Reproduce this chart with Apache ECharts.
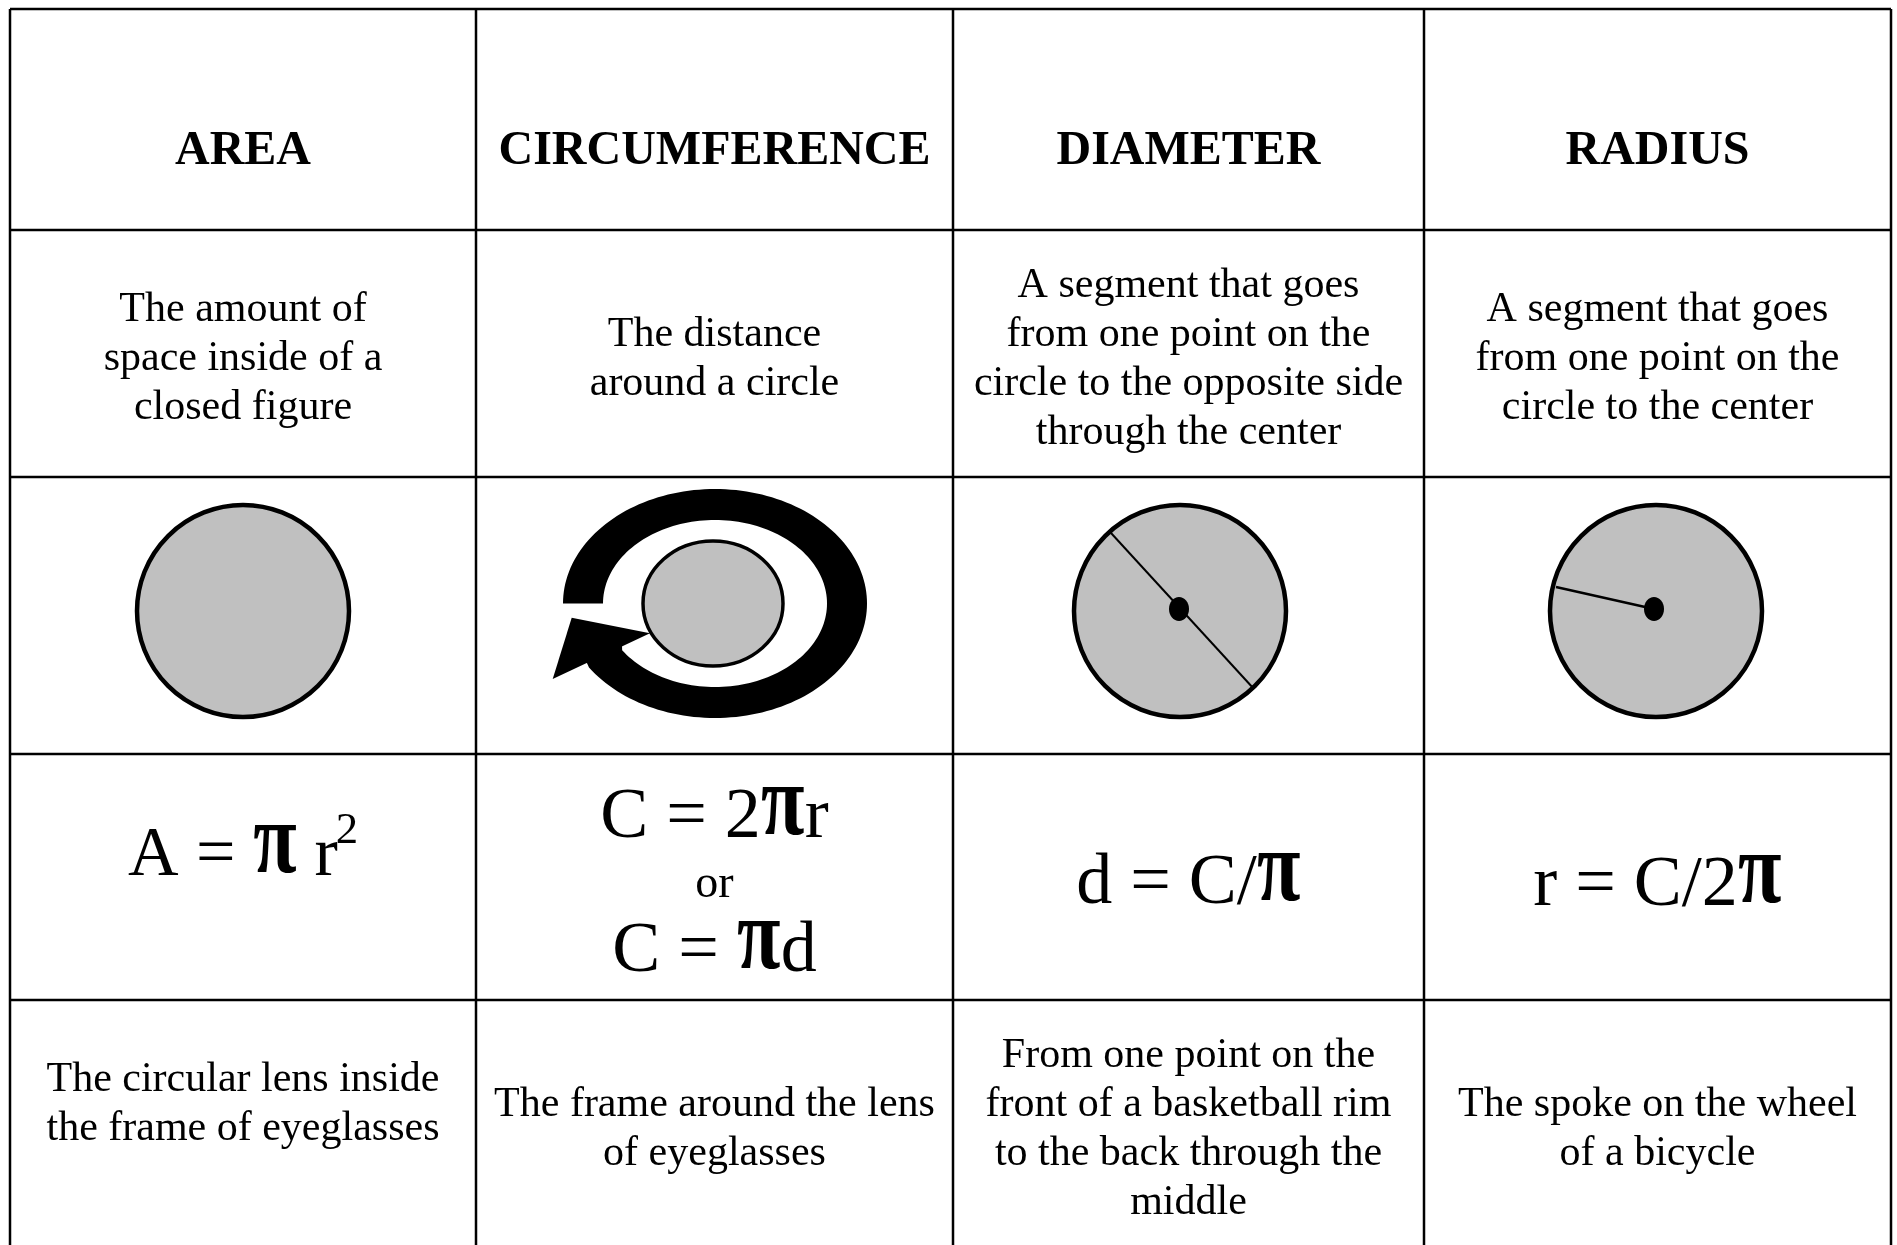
<!DOCTYPE html>
<html>
<head>
<meta charset="utf-8">
<script src="https://cdn.jsdelivr.net/npm/echarts@6/dist/echarts.min.js"></script>
<style>
  html, body { margin: 0; padding: 0; background: #fff; }
  #chartshow { width: 1897px; height: 1245px; }
</style>
</head>
<body>
<div id="chartshow"></div>
<script>
// table contents
const headers = ['AREA', 'CIRCUMFERENCE', 'DIAMETER', 'RADIUS'];
const definitions = [
  ['The amount of', 'space inside of a', 'closed figure'],
  ['The distance', 'around a circle'],
  ['A segment that goes', 'from one point on the', 'circle to the opposite side', 'through the center'],
  ['A segment that goes', 'from one point on the', 'circle to the center']
];
// '^' marks a superscript
const formulas = [
  ['A = π r^2'],
  ['C = 2πr', 'or', 'C = πd'],
  ['d = C/π'],
  ['r = C/2π']
];
const examples = [
  ['The circular lens inside', 'the frame of eyeglasses', ''],
  ['The frame around the lens', 'of eyeglasses'],
  ['From one point on the', 'front of a basketball rim', 'to the back through the', 'middle'],
  ['The spoke on the wheel', 'of a bicycle']
];

const FONT = '"Liberation Serif", "Times New Roman", serif';
const colX = [10, 476, 953, 1424, 1891]; // 列边界
const rowY = [9, 230, 477, 754, 1000, 1270]; // 行边界
const colCenter = (i) => (colX[i] + colX[i + 1]) / 2;

const ctx = document.createElement('canvas').getContext('2d');
const measure = (str, size, weight) => {
  ctx.font = (weight || 'normal') + ' ' + size + 'px ' + FONT;
  ctx.textBaseline = 'middle';
  return ctx.measureText(str);
};
// 中线到基线的距离
const baseOff = (size, weight) => measure('H', size, weight).actualBoundingBoxDescent;

const textEl = (str, x, y, size, weight, align, extra) => Object.assign({
  type: 'text',
  x: x,
  y: y,
  silent: true,
  style: {
    text: str,
    x: 0,
    y: 0,
    fill: '#000',
    fontFamily: FONT,
    fontSize: size,
    fontWeight: weight || 'normal',
    align: align || 'center',
    textAlign: align || 'center',
    verticalAlign: 'middle',
    textVerticalAlign: 'middle'
  }
}, extra || {});

const elements = [];

// 网格线
colX.forEach((x) => {
  elements.push({ type: 'line', shape: { x1: x, y1: rowY[0], x2: x, y2: rowY[5] }, style: { stroke: '#000', lineWidth: 2.5 } });
});
rowY.forEach((y) => {
  elements.push({ type: 'line', shape: { x1: colX[0], y1: y, x2: colX[4], y2: y }, style: { stroke: '#000', lineWidth: 2.5 } });
});

// 表头
headers.forEach((h, i) => {
  elements.push(textEl(h, colCenter(i), 164 - baseOff(48, 'bold'), 48, 'bold'));
});

// 多行文字块
const block = (lines, i, cy) => {
  const el = textEl(lines.join('\n'), colCenter(i), cy, 42);
  el.style.lineHeight = 49;
  return el;
};
definitions.forEach((lines, i) => elements.push(block(lines, i, 359)));
examples.forEach((lines, i) => elements.push(block(lines, i, 1129)));

// 公式
const PI_W = 42, PI_H = 48;
const piM0 = measure('π', 100, 'bold');
const piFs = 100 * PI_H / (piM0.actualBoundingBoxAscent + piM0.actualBoundingBoxDescent);
const piM = measure('π', piFs, 'bold');
const piSx = PI_W / (piM.actualBoundingBoxLeft + piM.actualBoundingBoxRight);

const drawFormula = (str, cx, base, fs) => {
  const toks = [];
  let buf = '';
  for (let i = 0; i < str.length; i++) {
    const ch = str[i];
    if (ch === 'π' || ch === '^') {
      if (buf) { toks.push({ k: 't', s: buf }); buf = ''; }
      if (ch === 'π') toks.push({ k: 'pi' });
      else toks.push({ k: 'sup', s: str[++i] });
    } else {
      buf += ch;
    }
  }
  if (buf) toks.push({ k: 't', s: buf });
  const supFs = fs * 0.64;
  toks.forEach((t) => {
    if (t.k === 't') t.w = measure(t.s, fs).width;
    else if (t.k === 'pi') t.w = PI_W + 2;
    else t.w = measure(t.s, supFs).width - 2;
  });
  const total = toks.reduce((a, t) => a + t.w, 0);
  let cur = cx - total / 2;
  toks.forEach((t) => {
    if (t.k === 't') {
      elements.push(textEl(t.s, cur, base - baseOff(fs), fs, 'normal', 'left'));
    } else if (t.k === 'pi') {
      elements.push(textEl('π', cur + 1 + piM.actualBoundingBoxLeft * piSx,
        base - 2 - piM.actualBoundingBoxDescent, piFs, 'bold', 'left', { scaleX: piSx }));
    } else {
      elements.push(textEl(t.s, cur - 2, base - fs * 0.46 - baseOff(supFs), supFs, 'normal', 'left'));
    }
    cur += t.w;
  });
};

const formulaBase = [[875], [837, 897, 971], [903], [905]];
const formulaSize = [[70], [72, 46, 72], [72], [72]];
formulas.forEach((lines, i) => {
  lines.forEach((s, j) => drawFormula(s, colCenter(i), formulaBase[i][j], formulaSize[i][j]));
});

// 图形
const GREY = '#c0c0c0';
elements.push({ type: 'circle', shape: { cx: 243, cy: 611, r: 106 }, style: { fill: GREY, stroke: '#000', lineWidth: 4.5 } });

// 周长：带箭头的环
const ring = { cx: 715, cy: 603.5, rxo: 152, ryo: 114.5, rxi: 112, ryi: 83.5 };
const ringPts = [];
for (let a = 180; a <= 507; a += 2) {
  const t = a * Math.PI / 180;
  ringPts.push([ring.cx + ring.rxo * Math.cos(t), ring.cy + ring.ryo * Math.sin(t)]);
}
// 末端压到箭头底边上
ringPts.push([586, 661]);
ringPts.push([622, 645]);
for (let a = 506; a >= 180; a -= 2) {
  const t = a * Math.PI / 180;
  ringPts.push([ring.cx + ring.rxi * Math.cos(t), ring.cy + ring.ryi * Math.sin(t)]);
}
ringPts.push([ring.cx - ring.rxi, ring.cy]);
elements.push({ type: 'polygon', shape: { points: ringPts }, style: { fill: '#000' } });
elements.push({ type: 'polygon', shape: { points: [[571.7, 617.7], [650, 633.3], [552.7, 679]] }, style: { fill: '#000' } });
elements.push({ type: 'ellipse', shape: { cx: 713, cy: 603.5, rx: 70, ry: 62.5 }, style: { fill: GREY, stroke: '#000', lineWidth: 3.5 } });

// 直径
elements.push({ type: 'circle', shape: { cx: 1180, cy: 611, r: 106 }, style: { fill: GREY, stroke: '#000', lineWidth: 4.5 } });
elements.push({ type: 'line', shape: { x1: 1111, y1: 533, x2: 1254, y2: 689 }, style: { stroke: '#000', lineWidth: 2 } });
elements.push({ type: 'ellipse', shape: { cx: 1179, cy: 609, rx: 10, ry: 12 }, style: { fill: '#000' } });

// 半径
elements.push({ type: 'circle', shape: { cx: 1656, cy: 611, r: 106 }, style: { fill: GREY, stroke: '#000', lineWidth: 4.5 } });
elements.push({ type: 'line', shape: { x1: 1556, y1: 587, x2: 1654, y2: 609 }, style: { stroke: '#000', lineWidth: 2.5 } });
elements.push({ type: 'ellipse', shape: { cx: 1654, cy: 609, rx: 10, ry: 12 }, style: { fill: '#000' } });

const myChart = echarts.init(document.getElementById('chartshow'));
myChart.setOption({
  backgroundColor: '#fff',
  animation: false,
  graphic: { elements: elements }
});
</script>
</body>
</html>
